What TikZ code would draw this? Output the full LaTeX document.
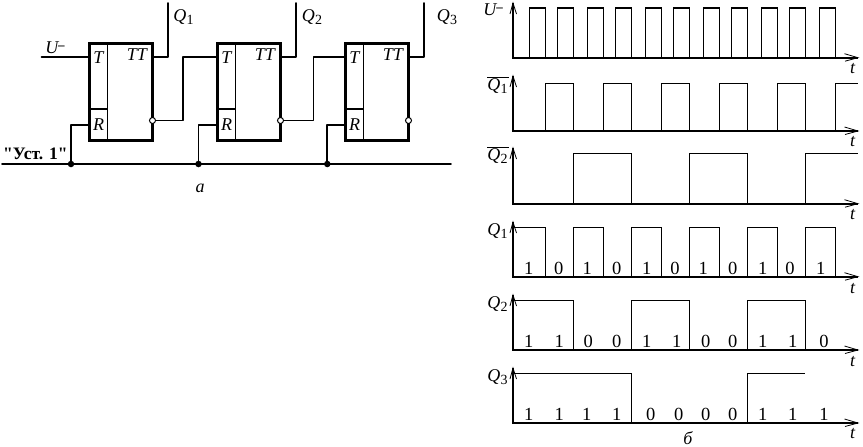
\documentclass[tikz,border=0pt]{standalone}
\usepackage{fontspec}
\setmainfont{Liberation Serif}
\newfontfamily\plainserif{Liberation Serif}
\newcommand{\qsub}[2]{{\itshape #1}\kern0.2pt\raisebox{-3.5pt}{\fontsize{14}{14}\selectfont #2}}
\newcommand{\qbar}[1]{$\overline{\mbox{\qsub{Q}{#1}\kern1pt}}$}
\newcommand{\uminus}{{\itshape U}\raisebox{4.5pt}{\fontsize{13}{13}\selectfont\bfseries\textendash}}
\tikzset{
  x=1pt,y=-1pt,
  wire/.style={line width=1.8pt,line cap=round,line join=round},
  ffbox/.style={draw,line width=3pt,outer sep=0pt,minimum width=63pt,minimum height=97pt,inner sep=0pt,anchor=north west},
  divider/.style={line width=1.6pt},
  wave/.style={line width=1.3pt,line join=miter},
  axisline/.style={line width=2.2pt},
  barb/.style={line width=0.8pt},
  lab/.style={inner sep=0pt,font=\fontsize{18}{18}\selectfont},
  ilab/.style={inner sep=0pt,font=\fontsize{18}{18}\selectfont\itshape},
  dig/.style={inner sep=0pt,font=\fontsize{18.5}{18.5}\selectfont},
  bub/.style={circle,draw,fill=white,line width=1pt,minimum size=6pt,inner sep=0pt},
  junc/.style={circle,fill=black,minimum size=6.5pt,inner sep=0pt},
}
\begin{document}
\begin{tikzpicture}
\useasboundingbox (0,0) rectangle (863,447);
% flip-flops
\foreach \i/\x in {1/89,2/217,3/345}{
  \node[ffbox] (ff\i) at (\x,43) {};
  \draw[divider] (\x+18.5,43) -- (\x+18.5,140);
  \draw[divider] (\x,108.7) -- (\x+18.5,108.7);
  \node[ilab] (t\i) at (\x+9.5,57.5) {T};
  \node[ilab] (r\i) at (\x+9.5,125) {R};
  \node[ilab] (tt\i) at (\x+48,54.5) {TT};
}
\coordinate (tin1) at (89,57);
\coordinate (tin2) at (217,57);
\coordinate (tin3) at (345,57);
\coordinate (rin1) at (89,125);
\coordinate (rin2) at (217,125);
\coordinate (rin3) at (345,125);
\coordinate (qo1) at (152,57);
\coordinate (qo2) at (280,57);
\coordinate (qo3) at (408,57);
\coordinate (qup1) at (168,3);
\coordinate (qup2) at (296,3);
\coordinate (qup3) at (424,3);
\coordinate (n1) at (152.5,120.5);
\coordinate (n2) at (280.5,120.5);
\coordinate (n3) at (408.5,120.5);
% bus
\coordinate (busl) at (2,164);
\coordinate (busr) at (451,164);
\draw[wire] (busl) -- (busr);
\node[junc] (j1) at (71,164) {};
\node[junc] (j2) at (198.5,164) {};
\node[junc] (j3) at (327.3,164) {};
\foreach \i in {1,2,3}{
  \draw[wire] (j\i.center) |- (rin\i);
  \draw[wire] (qo\i) -| (qup\i);
}
\coordinate (uin) at (41.5,57);
\coordinate (m1) at (183,121.5);
\coordinate (m2) at (313.5,120.5);
\draw[wire] (uin) -- (tin1);
\draw[wire] (n1) -- (n1 -| m1) |- (tin2);
\draw[wire] (n2) -- (n2 -| m2) |- (tin3);
\node[bub] (b1) at (n1) {};
\node[bub] (b2) at (n2) {};
\node[bub] (b3) at (n3) {};
\node[lab] (q1) at (183.5,17) {\qsub{Q}{1}};
\node[lab] (q2) at (312,17) {\qsub{Q}{2}};
\node[lab] (q3) at (447,17) {\qsub{Q}{3}};
\node[lab] (um) at (55,48) {\uminus};
\node[lab,anchor=west,font=\plainserif\fontsize{17.5}{17.5}\selectfont\bfseries] (ust) at (3,154) {"Уст. 1"};
\node[ilab] (capa) at (200,188) {а};
% axes
\foreach \n/\y/\top in {a/57.7/3,b/131/76,c/203.7/148,d/276.7/222,e/350/295,f/423/368}{
  \coordinate (o\n) at (513,\y);
  \coordinate (ax\n) at (858,\y);
  \coordinate (ay\n) at (513,\top);
  \draw[axisline] (ay\n) -- (o\n) -- (ax\n);
  \draw[barb] (844.5,\y-4) -- (ax\n) -- (845,\y+3.5);
  \draw[barb] (510,\top+11) -- (ay\n) -- (516.5,\top+11);
}
% waveforms
\draw[wave] (529.3,57.7) |- (545.3,8) -- (545.3,57.7)
 (557.3,57.7) |- (573.3,8) -- (573.3,57.7)
 (587.3,57.7) |- (603.3,8) -- (603.3,57.7)
 (615.3,57.7) |- (631.3,8) -- (631.3,57.7)
 (645.3,57.7) |- (661.7,8) -- (661.7,57.7)
 (673.3,57.7) |- (689.3,8) -- (689.3,57.7)
 (703.3,57.7) |- (719.3,8) -- (719.3,57.7)
 (731.3,57.7) |- (747.3,8) -- (747.3,57.7)
 (761.3,57.7) |- (777.3,8) -- (777.3,57.7)
 (789.3,57.7) |- (805.3,8) -- (805.3,57.7)
 (819.3,57.7) |- (835.3,8) -- (835.3,57.7);
\draw[wave] (545.3,131) |- (573.3,83.3) -- (573.3,131)
 (603.3,131) |- (631.3,83.3) -- (631.3,131)
 (661.3,131) |- (689.3,83.3) -- (689.3,131)
 (719.3,131) |- (747.3,83.3) -- (747.3,131)
 (777.3,131) |- (805.3,83.3) -- (805.3,131)
 (835.3,131) |- (858,83.3);
\draw[wave] (573.3,203.7) |- (631.3,153.3) -- (631.3,203.7)
 (689.3,203.7) |- (747.3,153.3) -- (747.3,203.7)
 (805.3,203.7) |- (858,153.3);
\draw[wave] (513,227.3) -| (545.3,276.7)
 (573.3,276.7) |- (603.3,227.3) -- (603.3,276.7)
 (631.3,276.7) |- (661.7,227.3) -- (661.7,276.7)
 (689.3,276.7) |- (719.3,227.3) -- (719.3,276.7)
 (747.3,276.7) |- (777.3,227.3) -- (777.3,276.7)
 (805.3,276.7) |- (835.3,227.3) -- (835.3,276.7);
\draw[wave] (513,300.3) -| (573.3,350)
 (631.3,350) |- (689.3,300.3) -- (689.3,350)
 (747.3,350) |- (805.3,300.3) -- (805.3,350);
\draw[wave] (513,373.7) -| (631.3,423)
 (747.3,423) |- (805.3,373.7);
% digits
\foreach \k/\x/\v in {1/528.7/1,2/558.7/0,3/587.3/1,4/616.7/0,5/646.7/1,6/675/0,7/703.3/1,8/732.7/0,9/762.7/1,10/790/0,11/820.7/1}
  \node[dig] (da\k) at (\x,268.7) {\v};
\foreach \k/\x/\v in {1/528.7/1,2/559.3/1,3/588.3/0,4/616.7/0,5/646.7/1,6/676.7/1,7/705.7/0,8/732.7/0,9/762.7/1,10/792.7/1,11/824/0}
  \node[dig] (db\k) at (\x,341.3) {\v};
\foreach \k/\x/\v in {1/528.7/1,2/559.3/1,3/586.7/1,4/616.7/1,5/650.7/0,6/678.7/0,7/705.7/0,8/732.7/0,9/762.7/1,10/792.7/1,11/824/1}
  \node[dig] (dc\k) at (\x,414.3) {\v};
% labels
\node[lab] (lu) at (493,10) {\uminus};
\node[lab] (lq1b) at (498,85) {\qbar{1}};
\node[lab] (lq2b) at (498,155) {\qbar{2}};
\node[lab] (lq1) at (497.5,231) {\qsub{Q}{1}};
\node[lab] (lq2) at (497.5,304) {\qsub{Q}{2}};
\node[lab] (lq3) at (497.5,377) {\qsub{Q}{3}};
\foreach \k/\y in {1/69,2/142,3/215,4/289,5/362,6/434}
  \node[ilab] (tl\k) at (852.7,\y) {t};
\node[ilab] (capb) at (688,438) {б};
\end{tikzpicture}
\end{document}
